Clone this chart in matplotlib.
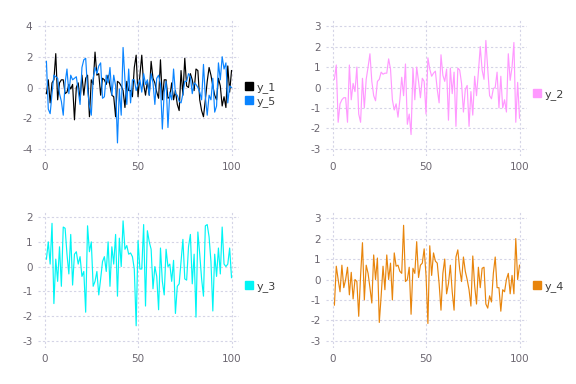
import matplotlib
matplotlib.use("Agg")
import matplotlib.pyplot as plt
from matplotlib.lines import Line2D
import numpy as np

x = list(range(1, 101))

y_1 = [-0.4, 0.5, -1.0, 0.3, 0.5, 2.2, -0.8, 0.3, 0.5, 0.5,
       -0.4, -0.3, 0.2, -0.1, 0.2, -2.1, 0.0, 0.3, -0.8, 0.8,
       -0.5, 0.6, 0.8, -1.9, 0.5, 0.2, 2.3, 0.8, 0.9, -0.5,
       0.6, 0.5, 0.2, 0.8, 0.1, -0.5, -0.6, -1.9, 0.4, 0.3,
       0.1, -0.2, -1.3, 0.4, -0.2, -0.2, -0.6, 1.3, 2.1, -0.6,
       0.8, 2.1, 0.2, -0.5, 0.4, -0.5, 1.7, 0.6, 0.3, -0.3,
       -0.7, 1.8, -0.8, 0.5, 0.5, -0.7, -0.6, 0.3, -0.8, -0.2,
       -1.1, -1.5, 1.1, -0.5, 1.9, 0.1, 0.0, 0.9, 0.5, -0.2,
       1.2, 1.1, -0.8, -1.5, -1.9, -0.8, 0.4, 1.3, 0.8, 0.1,
       -0.5, -0.8, 0.6, 0.1, -1.2, -0.6, -1.3, 1.4, -0.3, 1.1]

y_5 = [1.7, -1.4, -1.7, -0.4, 0.8, 0.7, 0.6, -0.4, -0.9, -1.8,
       0.3, 1.2, -0.4, 0.8, 0.5, 0.6, 0.7, -0.2, -1.1, 1.3,
       1.8, 1.9, -0.1, -1.2, -1.8, 0.6, 1.3, 0.9, 1.4, 1.6,
       -0.7, -0.6, 0.8, 0.3, 1.3, -0.5, 0.8, 0.1, -3.6, -0.1,
       -1.8, 2.6, 0.5, -1.1, 1.2, -1.0, 0.5, 0.5, -0.2, 0.2,
       0.5, -0.3, 0.9, 0.2, 0.5, -0.5, 0.9, 0.3, -1.1, 0.6,
       0.8, 0.2, -2.7, -0.3, 0.4, -2.6, -0.3, -0.8, 1.2, -0.4,
       -0.5, -0.9, -1.0, -0.4, 0.4, 0.4, 0.9, 0.7, -0.4, 0.3,
       0.2, 0.0, -0.3, -0.8, 1.5, -0.6, -1.8, -0.5, -0.8, 0.6,
       -1.6, -1.2, 1.6, 0.5, 2.0, 1.2, 1.6, -1.0, 0.1, 0.0]

y_2 = [0.4, 1.1, -1.7, -0.8, -0.6, -0.5, -0.5, -1.7, 1.1, -0.6,
       0.2, -0.2, 1.0, -1.3, -1.7, 0.45, -1.0, 0.4, 1.0, 1.65,
       0.3, -0.4, -0.65, 0.3, 0.4, 0.75, 0.65, 0.7, 0.7, 1.4,
       0.9, -0.6, -1.1, -0.8, -1.45, -0.6, 0.5, -0.4, 1.15, -1.8,
       -1.3, -2.3, 0.95, -0.6, 1.0, 0.3, -0.5, 0.45, 0.3, -1.3,
       1.45, 0.9, 0.55, 0.7, 0.8, -0.1, -0.75, 1.6, 0.6, 0.3,
       0.9, -1.6, 0.95, -0.3, 0.75, -1.9, 0.95, 0.85, 0.2, -1.2,
       -0.1, 0.1, -1.9, -0.2, -1.35, 0.55, -0.4, 0.75, 2.0, 0.85,
       0.4, 2.3, 0.9, -0.4, -0.55, -0.05, 0.0, 0.75, -1.0, 0.55,
       -1.0, -0.6, -1.2, 1.65, 0.35, 1.0, 2.2, -1.7, 0.25, -1.5]

y_3 = [0.3, 1.0, 0.1, 1.75, -1.5, 0.3, -0.6, 0.8, -0.8, 1.6,
       1.55, 0.5, -0.3, 1.3, -0.75, 0.5, 0.6, 0.1, 0.4, -0.4,
       -0.2, -1.85, 1.65, 0.6, 1.0, -0.8, -0.6, -0.2, -1.15, -0.5,
       0.2, 0.4, -0.2, 1.0, -0.8, 0.8, 0.1, 1.3, -1.2, 1.15,
       0.0, 1.85, 0.7, 0.85, 0.5, 0.55, 0.4, -0.1, -2.4, 1.05,
       -0.1, -0.1, 1.7, -1.6, 1.45, 1.0, 0.7, -0.9, 0.0, -0.4,
       -1.75, 0.75, -0.6, -1.15, 0.7, 0.0, 0.1, -0.6, 0.25, -1.9,
       -0.8, -0.7, 0.2, 1.1, -0.5, -0.55, 0.8, 1.3, -0.7, 0.5,
       -2.05, 1.4, 0.5, -0.5, -1.2, 1.65, 1.7, 1.2, 0.2, -1.8,
       0.5, -0.4, 0.75, -0.3, 1.6, 0.1, 0.0, 0.1, 0.75, -0.45]

y_4 = [-1.25, 0.65, 0.0, -0.6, 0.7, -0.4, 0.0, 0.6, -0.75, 0.35,
       -0.95, 0.0, -0.1, -1.8, 0.2, 1.8, -1.0, 0.7, 0.3, -0.4,
       -1.15, 1.2, 0.0, 1.05, -2.1, -0.8, 0.65, -0.5, 1.2, 0.0,
       0.8, -1.0, 1.3, 0.65, 0.7, 0.4, 0.3, 2.65, -0.1, 0.0,
       0.6, -1.7, 0.55, 0.3, 1.85, 0.1, 0.7, 0.8, 1.5, 0.2,
       -2.15, 1.65, 0.2, 1.3, 0.9, 0.8, -0.2, -1.5, 0.3, 1.0,
       -0.7, -0.2, 0.7, -0.6, -1.5, 1.1, 1.45, 0.5, -0.1, 1.1,
       0.4, 0.0, -0.5, -1.3, 1.15, -0.3, -1.2, 0.6, -0.4, 0.55,
       0.6, -1.2, -1.4, -0.8, -1.1, 0.3, 1.1, -0.4, -0.4, -1.55,
       -0.5, -0.6, 0.0, 0.3, -0.7, 0.2, -0.7, 2.0, 0.0, 0.7]

x_ticks = [0, 50, 100]

panels = [
    ([("y_1", y_1, "#000000"), ("y_5", y_5, "#0a84ff")], [-4, -2, 0, 2, 4], (-4.45, 4.45)),
    ([("y_2", y_2, "#ff99ff")], [-3, -2, -1, 0, 1, 2, 3], (-3.35, 3.35)),
    ([("y_3", y_3, "#00f5f5")], [-3, -2, -1, 0, 1, 2], (-3.3, 2.25)),
    ([("y_4", y_4, "#e8850c")], [-3, -2, -1, 0, 1, 2, 3], (-3.35, 3.35)),
]

W, H = 576, 384
fig = plt.figure(figsize=(W / 100, H / 100), dpi=100)
fig.patch.set_facecolor("white")

tick_color = "#6b6670"
grid_color = "#d4d4e6"

for idx, (series, yt, ylim) in enumerate(panels):
    col = idx % 2
    row = idx // 2
    qx = col * 288
    qy = row * 192
    left = (qx + 38) / W
    right = (qx + 239) / W
    top = 1 - (qy + 19) / H
    bottom = 1 - (qy + 156) / H
    ax = fig.add_axes([left, bottom, right - left, top - bottom])
    for name, ys, c in series:
        ax.plot(x, ys, color=c, lw=0.85, label=name)
    ax.set_xlim(-3.5, 104)
    ax.set_ylim(*ylim)
    ax.set_xticks(x_ticks)
    ax.set_yticks(yt)
    ax.set_yticklabels([str(v) for v in yt])
    ax.set_xticklabels([str(v) for v in x_ticks])
    for s in ax.spines.values():
        s.set_visible(False)
    ax.tick_params(length=0, labelsize=7.5, colors=tick_color, pad=4)
    ax.grid(True, color=grid_color, linestyle=(0, (2, 2)), lw=0.8)
    ax.set_axisbelow(True)
    handles = [Line2D([], [], marker="s", linestyle="none", color=c,
                      markersize=5.3) for _, _, c in series]
    labels = [n for n, _, _ in series]
    ax.legend(handles, labels, loc="center left", bbox_to_anchor=(1.0, 0.45),
              frameon=False, fontsize=8, handlelength=0.6, handletextpad=0.35,
              labelspacing=0.25, borderaxespad=0.2, labelcolor="#3c3c3c")

fig.savefig("out.png", dpi=100, facecolor="white")
